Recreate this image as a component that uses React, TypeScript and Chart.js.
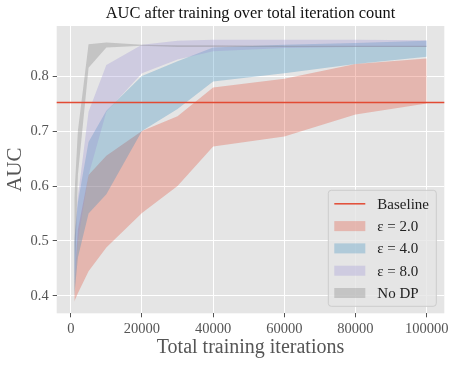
import React, { useEffect, useRef } from "react";
import { Chart, registerables } from "chart.js";

Chart.register(...registerables);

// ---- data ----
const iterations = [1000, 2000, 5000, 10000, 20000, 30000, 40000, 60000, 80000, 100000];

const eps2Lower = [0.39, 0.405, 0.445, 0.488, 0.551, 0.6, 0.672, 0.69, 0.73, 0.75];
const eps2Upper = [0.42, 0.52, 0.62, 0.655, 0.7, 0.727, 0.779, 0.795, 0.822, 0.832];

const eps4Lower = [0.4, 0.47, 0.55, 0.585, 0.7, 0.74, 0.79, 0.805, 0.822, 0.835];
const eps4Upper = [0.5, 0.57, 0.68, 0.737, 0.8, 0.827, 0.852, 0.857, 0.86, 0.864];

const eps8Lower = [0.42, 0.5, 0.62, 0.735, 0.805, 0.83, 0.845, 0.851, 0.853, 0.853];
const eps8Upper = [0.5, 0.58, 0.735, 0.82, 0.857, 0.864, 0.866, 0.866, 0.866, 0.865];

const noDpLower = [0.4, 0.62, 0.815, 0.852, 0.855, 0.853, 0.853, 0.853, 0.853, 0.853];
const noDpUpper = [0.58, 0.7, 0.858, 0.861, 0.857, 0.856, 0.856, 0.855, 0.855, 0.855];

const baselineAUC = 0.752;

const xTicks = [0, 20000, 40000, 60000, 80000, 100000];
const yTicks = [0.4, 0.5, 0.6, 0.7, 0.8];

const legendLabels = ["Baseline", "ε = 2.0", "ε = 4.0", "ε = 8.0", "No DP"];

const titleText = "AUC after training over total iteration count";
const xTitle = "Total training iterations";
const yTitle = "AUC";

// ---- styles ----
const RED = "226,74,51";
const BLUE = "52,138,189";
const PURPLE = "152,142,213";
const GRAY = "119,119,119";
const ALPHA = 0.3;
const FONT = "'Liberation Serif', 'DejaVu Serif', serif";

const pts = (ys: number[]) => iterations.map((x, i) => ({ x, y: ys[i] }));

const bgPlugin = {
  id: "plotBg",
  beforeDraw(chart: any) {
    const { ctx, chartArea: a } = chart;
    ctx.save();
    ctx.fillStyle = "#E5E5E5";
    ctx.fillRect(a.left, a.top, a.right - a.left, a.bottom - a.top);
    ctx.restore();
  },
};

const titlePlugin = {
  id: "axesTitle",
  afterDraw(chart: any) {
    const { ctx, chartArea: a } = chart;
    ctx.save();
    ctx.font = `16.4px ${FONT}`;
    ctx.fillStyle = "#111111";
    ctx.textAlign = "center";
    ctx.textBaseline = "middle";
    ctx.fillText(titleText, (a.left + a.right) / 2, 13.5);
    ctx.restore();
  },
};

const legendPlugin = {
  id: "boxLegend",
  afterDraw(chart: any) {
    const { ctx, chartArea: a } = chart;
    const w = 108;
    const h = 116;
    const x0 = a.right - 8 - w;
    const y0 = a.bottom - 7 - h;
    ctx.save();
    ctx.beginPath();
    const r = 3;
    ctx.moveTo(x0 + r, y0);
    ctx.lineTo(x0 + w - r, y0);
    ctx.quadraticCurveTo(x0 + w, y0, x0 + w, y0 + r);
    ctx.lineTo(x0 + w, y0 + h - r);
    ctx.quadraticCurveTo(x0 + w, y0 + h, x0 + w - r, y0 + h);
    ctx.lineTo(x0 + r, y0 + h);
    ctx.quadraticCurveTo(x0, y0 + h, x0, y0 + h - r);
    ctx.lineTo(x0, y0 + r);
    ctx.quadraticCurveTo(x0, y0, x0 + r, y0);
    ctx.closePath();
    ctx.fillStyle = "rgba(229,229,229,0.8)";
    ctx.fill();
    ctx.strokeStyle = "#CCCCCC";
    ctx.lineWidth = 1;
    ctx.stroke();

    const colors = [RED, RED, BLUE, PURPLE, GRAY];
    ctx.font = `15px ${FONT}`;
    ctx.textBaseline = "middle";
    ctx.textAlign = "left";
    legendLabels.forEach((label, i) => {
      const cy = y0 + 13.5 + i * 22.3;
      const hx = x0 + 6;
      const hw = 31;
      if (i === 0) {
        ctx.strokeStyle = `rgb(${colors[i]})`;
        ctx.lineWidth = 1.5;
        ctx.beginPath();
        ctx.moveTo(hx, cy);
        ctx.lineTo(hx + hw, cy);
        ctx.stroke();
      } else {
        ctx.fillStyle = `rgba(${colors[i]},${ALPHA})`;
        ctx.fillRect(hx, cy - 5, hw, 10);
      }
      ctx.fillStyle = "#222222";
      ctx.fillText(label, x0 + 49, cy + 1);
    });
    ctx.restore();
  },
};

function band(upper: number[], lower: number[], rgb: string, label: string) {
  return [
    {
      label,
      data: pts(upper),
      borderWidth: 0,
      borderColor: "rgba(0,0,0,0)",
      backgroundColor: `rgba(${rgb},${ALPHA})`,
      pointRadius: 0,
      fill: "+1",
      tension: 0,
    },
    {
      label: label + " lower",
      data: pts(lower),
      borderWidth: 0,
      borderColor: "rgba(0,0,0,0)",
      backgroundColor: "rgba(0,0,0,0)",
      pointRadius: 0,
      fill: false,
      tension: 0,
    },
  ];
}

export default function App() {
  const ref = useRef<HTMLCanvasElement | null>(null);
  useEffect(() => {
    if (!ref.current) return;
    const datasets: any[] = [
      {
        label: legendLabels[0],
        data: [
          { x: -10000, y: baselineAUC },
          { x: 120000, y: baselineAUC },
        ],
        borderColor: `rgb(${RED})`,
        borderWidth: 1.6,
        pointRadius: 0,
        fill: false,
      },
      ...band(noDpUpper, noDpLower, GRAY, legendLabels[4]),
      ...band(eps8Upper, eps8Lower, PURPLE, legendLabels[3]),
      ...band(eps4Upper, eps4Lower, BLUE, legendLabels[2]),
      ...band(eps2Upper, eps2Lower, RED, legendLabels[1]),
    ];
    const chart = new Chart(ref.current, {
      type: "line",
      data: { datasets },
      plugins: [bgPlugin, legendPlugin, titlePlugin],
      options: {
        animation: false,
        responsive: false,
        maintainAspectRatio: false,
        layout: { padding: { left: 0, right: 12.7, top: 26, bottom: 0 } },
        plugins: {
          legend: { display: false },
          tooltip: { enabled: false },
          title: { display: false },
        },
        scales: {
          x: {
            type: "linear",
            min: -3950,
            max: 104950,
            afterBuildTicks: (s: any) => {
              s.ticks = xTicks.map((v) => ({ value: v }));
            },
            afterFit: (s: any) => {
              s.height = 51.7;
            },
            ticks: {
              color: "#555555",
              font: { family: FONT, size: 14.5 },
              padding: 3,
              maxRotation: 0,
              autoSkip: false,
              callback: (v: any) => String(v),
            },
            grid: {
              color: "#FFFFFF",
              lineWidth: 1,
              tickColor: "#555555",
              tickLength: 4,
              tickWidth: 1,
            },
            border: { display: false },
            title: {
              display: true,
              text: xTitle,
              color: "#555555",
              font: { family: FONT, size: 20 },
              padding: { top: 0, bottom: 5 },
            },
          },
          y: {
            type: "linear",
            min: 0.3685,
            max: 0.891,
            afterBuildTicks: (s: any) => {
              s.ticks = yTicks.map((v) => ({ value: v }));
            },
            afterFit: (s: any) => {
              s.width = 56.7;
            },
            ticks: {
              color: "#555555",
              font: { family: FONT, size: 14.5 },
              padding: 4,
              callback: (v: any) => Number(v).toFixed(1),
            },
            grid: {
              color: "#FFFFFF",
              lineWidth: 1,
              tickColor: "#555555",
              tickLength: 4,
              tickWidth: 1,
            },
            border: { display: false },
            title: {
              display: true,
              text: yTitle,
              color: "#555555",
              font: { family: FONT, size: 21 },
              padding: { top: 3, bottom: 0 },
            },
          },
        },
      },
    } as any);
    return () => chart.destroy();
  }, []);
  return (
    <div style={{ position: "fixed", left: 0, top: 0, width: 457, height: 365, background: "#FFFFFF" }}>
      <canvas ref={ref} width={457} height={365} style={{ width: 457, height: 365 }} />
    </div>
  );
}
